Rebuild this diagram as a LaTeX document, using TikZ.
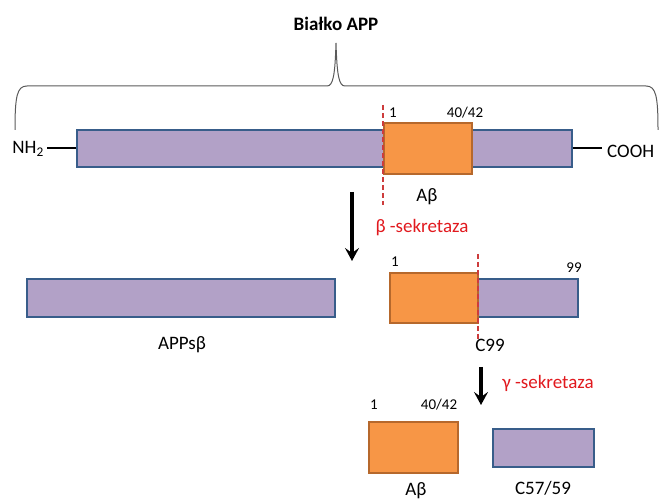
\documentclass[tikz,border=0pt]{standalone}
\usepackage{fontspec}
\setmainfont{Carlito}
\usetikzlibrary{arrows.meta}
\definecolor{purpfill}{RGB}{178,161,199}
\definecolor{purpline}{RGB}{56,93,138}
\definecolor{orfill}{RGB}{247,150,70}
\definecolor{orline}{RGB}{182,104,44}
\definecolor{redtxt}{RGB}{225,25,30}
\definecolor{reddash}{RGB}{205,60,60}
\definecolor{bracegray}{RGB}{90,90,90}
\begin{document}
\begin{tikzpicture}[x=1pt,y=-1pt,
  pbox/.style={draw=purpline,fill=purpfill,line width=1.4pt,inner sep=0pt},
  obox/.style={draw=orline,fill=orfill,line width=1.4pt,inner sep=0pt},
  lbl/.style={inner sep=0pt,font=\fontsize{19}{22}\selectfont},
  small/.style={inner sep=0pt,font=\fontsize{15}{18}\selectfont},
  redlbl/.style={lbl,text=redtxt},
  cut/.style={draw=reddash,line width=1.3pt,dash pattern=on 5pt off 3pt},
  bigarrow/.style={line width=3.6pt,-{Stealth[length=13pt,width=14pt,inset=5pt]}},
  stub/.style={line width=2pt,black}]
\useasboundingbox (0,0) rectangle (659,502);
% title and brace
\node[lbl,font=\fontsize{19}{22}\selectfont\bfseries] (title) at (336,24) {Białko APP};
\draw[bracegray,line width=1pt] (15,130) .. controls (15,96) and (17,86) .. (27,86) -- (327,86)
  .. controls (333,86) and (335,76) .. (336,43)
  .. controls (337,76) and (339,86) .. (345,86) -- (646,86)
  .. controls (656,86) and (658,96) .. (658,130);
% full APP
\node[pbox,minimum width=495pt,minimum height=37pt] (app) at (324.5,148.5) {};
\node[obox,minimum width=88pt,minimum height=51pt] (abfull) at (428,148.5) {};
\node[lbl,anchor=east] (nh2) at (44,149) {NH\textsubscript{2}};
\node[lbl,anchor=west] (cooh) at (607,151) {COOH};
\draw[stub] ([xshift=3pt]nh2.east |- app.west) -- (app.west);
\draw[stub] (app.east) -- ([xshift=-5pt]cooh.west |- app.east);
\coordinate (cut1a) at (383,105);
\coordinate (cut1b) at (383,205);
\draw[cut] (cut1a) -- (cut1b);
\node[small] (n1a) at (393,113) {1};
\node[small] (n4042a) at (465,113) {40/42};
\node[lbl] (ablbl1) at (427,197) {Aβ};
% beta secretase
\coordinate (a1s) at (352,192);
\coordinate (a1e) at (352,261);
\draw[bigarrow] (a1s) -- (a1e);
\node[redlbl] (beta) at (422,228) {β -sekretaza};
% products
\node[pbox,minimum width=308pt,minimum height=38pt] (appsb) at (181,298) {};
\node[lbl] (appsblbl) at (182,345) {APPsβ};
\node[pbox,minimum width=100pt,minimum height=38pt] (c99p) at (528,298) {};
\node[obox,minimum width=88pt,minimum height=50pt] (c99o) at (434,298) {};
\coordinate (cut2a) at (478,254);
\coordinate (cut2b) at (478,340);
\draw[cut] (cut2a) -- (cut2b);
\node[small] (n1b) at (395,262) {1};
\node[small] (n99) at (574,268) {99};
\node[lbl] (c99lbl) at (490,345) {C99};
% gamma secretase
\coordinate (a2s) at (481,367);
\coordinate (a2e) at (481,405);
\draw[bigarrow] (a2s) -- (a2e);
\node[redlbl] (gamma) at (548,383) {γ -sekretaza};
% final products
\node[small] (n1c) at (374,405) {1};
\node[small] (n4042c) at (439,405) {40/42};
\node[obox,minimum width=89pt,minimum height=51pt] (ab) at (413.5,447.5) {};
\node[pbox,minimum width=101pt,minimum height=38pt] (c57) at (543.5,448) {};
\node[lbl] (ablbl2) at (416,491) {Aβ};
\node[lbl] (c57lbl) at (543,488) {C57/59};
\end{tikzpicture}
\end{document}
